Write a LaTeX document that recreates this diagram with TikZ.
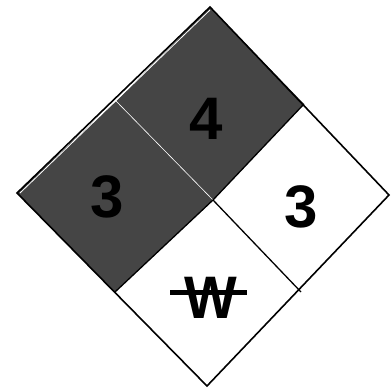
\documentclass[tikz,border=0pt]{standalone}
\usepackage{fontspec}
\setmainfont{Liberation Sans}
\usetikzlibrary{calc}
\begin{document}
\begin{tikzpicture}[x=1pt,y=-1pt,
  edge/.style={draw=black,line width=1.6pt,line join=miter},
  divider/.style={draw=black,line width=1.3pt},
  shade/.style={fill=black!73},
  numtext/.style={font=\fontsize{60}{60}\selectfont\bfseries,text=black,inner sep=0pt}]
\useasboundingbox (0,0) rectangle (391,388);
\coordinate (T) at (210,7);
\coordinate (L) at (17,193);
\coordinate (R) at (389,195);
\coordinate (B) at (207,386);
\coordinate (C) at (213,200);
\coordinate (TLm) at (116,101);
\coordinate (TRm) at (304,104);
\coordinate (BLm) at (115,292);
\coordinate (BRm) at (301,292);
% shaded quadrants
\path[shade] (T) -- (TRm) -- (C) -- (TLm) -- cycle;
\path[shade] (TLm) -- (C) -- (BLm) -- (L) -- cycle;
\draw[white,line width=0.6pt] (TLm) -- (C);
\draw[white,line width=0.8pt] ($(L)+(3,0)$) -- ($(T)+(0,3)$);
% dividers
\draw[divider] (TRm) -- (C) -- (BLm);
\draw[divider] (C) -- (BRm);
% outline
\draw[edge] (T) -- (R) -- (B) -- (L) -- cycle;
% texts
\node[numtext] (flam) at (206,119) {4};
\node[numtext] (health) at (107,197) {3};
\node[numtext] (react) at (301,207) {3};
\node[numtext,xscale=0.93] (spec) at (211,298) {W};
\draw[black,line width=5pt] (170,292) -- (247,292);
\end{tikzpicture}
\end{document}
